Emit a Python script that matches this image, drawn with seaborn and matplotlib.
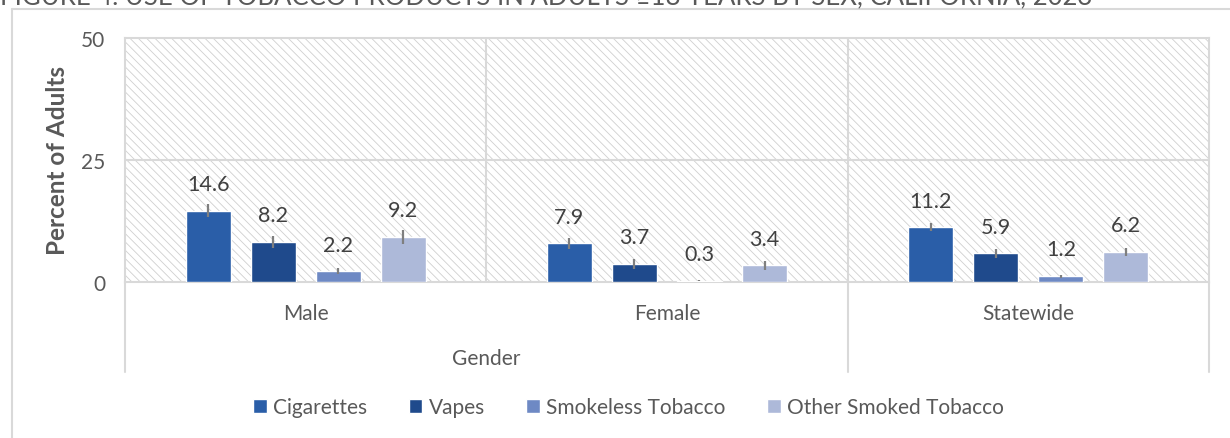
import pandas as pd
import matplotlib.pyplot as plt
import seaborn as sns
from matplotlib.lines import Line2D
from matplotlib.patches import Rectangle

# Dados
grupos = ['Male', 'Female', 'Statewide']
produtos = ['Cigarettes', 'Vapes', 'Smokeless Tobacco', 'Other Smoked Tobacco']
cigarettes = [14.6, 7.9, 11.2]
vapes = [8.2, 3.7, 5.9]
smokeless = [2.2, 0.3, 1.2]
other_smoked = [9.2, 3.4, 6.2]
# meia-largura aproximada das barras de erro
err_cigarettes = [1.3, 1.1, 0.85]
err_vapes = [1.15, 1.1, 0.9]
err_smokeless = [0.6, 0.1, 0.3]
err_other = [1.5, 1.0, 0.85]
cores = ['#2A5EA8', '#1F4A8C', '#6E89C4', '#ADB9D9']
titulo = 'FIGURE 4. USE OF TOBACCO PRODUCTS IN ADULTS \u226518 YEARS BY SEX, CALIFORNIA, 2023'

valores = [cigarettes, vapes, smokeless, other_smoked]
erros = [err_cigarettes, err_vapes, err_smokeless, err_other]
linhas = []
for p, vals in zip(produtos, valores):
    for g, v in zip(grupos, vals):
        linhas.append({'grupo': g, 'produto': p, 'valor': v})
df = pd.DataFrame(linhas)

sns.set_style('white')
plt.rcParams['font.family'] = ['Lato', 'DejaVu Sans']
plt.rcParams['hatch.linewidth'] = 0.6
texto = '#595959'
cinza = '#D9D9D9'

fig = plt.figure(figsize=(12.3, 4.39), dpi=100)
ax = fig.add_axes([0.1016, 0.3554, 0.8813, 0.5558])

# fundo hachurado
ax.add_patch(Rectangle((0, 0), 1, 1, transform=ax.transAxes, fill=False,
                       hatch='\\\\\\\\', edgecolor='#CFCFCF', linewidth=0, zorder=0))

sns.barplot(data=df, x='grupo', y='valor', hue='produto', order=grupos,
            hue_order=produtos, palette=cores, saturation=1, width=0.72,
            gap=0.31, errorbar=None, ax=ax, zorder=3)

for cont, errs in zip(ax.containers, erros):
    xs = [b.get_x() + b.get_width() / 2 for b in cont]
    hs = [b.get_height() for b in cont]
    ax.errorbar(xs, hs, yerr=errs, fmt='none', ecolor='#7F7F7F',
                elinewidth=1.6, capsize=0, zorder=4)
    ax.bar_label(cont, fmt='%.1f', padding=12, fontsize=15.5, color='#404040')

ax.set_xlim(-0.5, 2.5)
ax.set_ylim(0, 50)
ax.set_yticks([0, 25, 50])
ax.axhline(25, color=cinza, lw=1.5, zorder=1)
for xv in [0.5, 1.5]:
    ax.axvline(xv, color=cinza, lw=1.5, zorder=1)
for s in ax.spines.values():
    s.set_visible(True)
    s.set_color(cinza)
    s.set_linewidth(1.5)
ax.tick_params(axis='y', length=0, pad=14, labelsize=15, labelcolor=texto)
ax.tick_params(axis='x', length=0, pad=15, labelsize=15, labelcolor=texto)

# linhas do eixo de categorias com dois níveis
trans = ax.get_xaxis_transform()
for xv in [-0.5, 1.5, 2.5]:
    ax.plot([xv, xv], [0, -0.369], transform=trans, color=cinza, lw=1.5, clip_on=False)
ax.text(0.5, -0.311, 'Gender', transform=trans, ha='center', va='center',
        fontsize=15, color=texto)

ax.set_xlabel('')
ax.set_ylabel('Percent of Adults', fontsize=17.5, fontweight='bold', color=texto)
ax.yaxis.set_label_coords(-0.052, 0.5)

handles, labels = ax.get_legend_handles_labels()
ax.get_legend().remove()
fig.legend(handles, labels, loc='center', bbox_to_anchor=(0.511, 1 - 408 / 439),
           ncol=4, frameon=False, handlelength=0.65, handleheight=0.65,
           handletextpad=0.3, columnspacing=2.0, fontsize=15, labelcolor=texto)

# moldura externa e título cortado
fig.add_artist(Line2D([12 / 1230, 1], [1 - 10 / 439] * 2, transform=fig.transFigure,
                      color=cinza, lw=1.5))
fig.add_artist(Line2D([12 / 1230] * 2, [0, 1 - 10 / 439], transform=fig.transFigure,
                      color=cinza, lw=1.5))
fig.text(0.0, 1 - 4 / 439, titulo, ha='left', va='baseline', fontsize=18.5, color=texto)

fig.savefig('out.png', dpi=100)
